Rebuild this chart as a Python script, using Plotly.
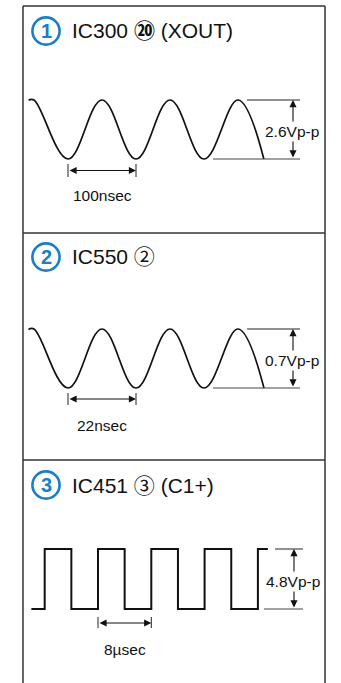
import plotly.graph_objects as go

# ---------------- data ----------------
# Panel 1: IC300 pin 20 (XOUT) – time in nsec, voltage in V
t1 = [-58, -50, 0, 50, 100, 150, 200, 250, 288]
v1 = [1.29, 1.3, -1.3, 1.3, -1.3, 1.3, -1.3, 1.3, -1.3]
# Panel 2: IC550 pin 2 – time in nsec, voltage in V
t2 = [-12.8, -11, 0, 11, 22, 33, 44, 55, 63.4]
v2 = [0.345, 0.35, -0.35, 0.35, -0.35, 0.35, -0.35, 0.35, -0.35]
# Panel 3: IC451 pin 3 (C1+) – time in usec, voltage in V
t3 = [-10, -8, -4, 0, 4, 8, 12, 16, 20, 24, 25.5]
v3 = [0, 4.8, 0, 4.8, 0, 4.8, 0, 4.8, 0, 4.8, 4.8]

titles = ["IC300 <b>⑳</b> (XOUT)", "IC550 ②", "IC451 ③ (C1+)"]
badges = ["1", "2", "3"]
periods = [100, 22, 8]
period_units = ["nsec", "nsec", "µsec"]
vpp = [2.6, 0.7, 4.8]

# ---------------- layout constants (pixels) ----------------
W, H = 341, 683
BLUE = "#1b7fc6"
INK = "#222222"
FONT = "Liberation Sans, Arial, Noto Sans CJK JP, sans-serif"

panels = [
    dict(t=t1, v=v1, shape="spline", band=(6, 233), x0px=68, pxper=68, phi=100, plo=159,
         title_y=31, top_ext=(247, 300), bot_ext=(213, 300), arrow_x=293, label_x=292,
         tick=(164, 177), dim_y=170.5, tlabel_y=195),
    dict(t=t2, v=v2, shape="spline", band=(233, 460), x0px=68, pxper=68, phi=329, plo=388,
         title_y=257, top_ext=(247, 300), bot_ext=(213, 300), arrow_x=293, label_x=292,
         tick=(393, 405), dim_y=399, tlabel_y=425),
    dict(t=t3, v=v3, shape="hv", band=(460, H), x0px=98, pxper=53.3, phi=549, plo=609,
         title_y=485, top_ext=(275, 303), bot_ext=(264, 303), arrow_x=294, label_x=293,
         tick=(617, 628), dim_y=623, tlabel_y=649),
]


def px(p):
    return p / W


def py(p):
    return 1 - p / H


fig = go.Figure()
shapes = []
annotations = []
layout_axes = {}

for i, P in enumerate(panels):
    n = "" if i == 0 else str(i + 1)
    xa, ya = "x" + n, "y" + n
    vhi, vlo = max(P["v"]), min(P["v"])
    top, bottom = P["band"]
    k = periods[i] / P["pxper"]
    s = (vhi - vlo) / (P["plo"] - P["phi"])
    layout_axes["xaxis" + n] = dict(domain=[0, 1], range=[-P["x0px"] * k, (W - P["x0px"]) * k],
                                    visible=False, anchor=ya, fixedrange=True)
    layout_axes["yaxis" + n] = dict(domain=[1 - bottom / H, 1 - top / H],
                                    range=[vlo - (bottom - P["plo"]) * s, vhi + (P["phi"] - top) * s],
                                    visible=False, anchor=xa, fixedrange=True)

    line = dict(color="#111111", width=1.7 if P["shape"] == "spline" else 2.0, shape=P["shape"])
    if P["shape"] == "spline":
        line["smoothing"] = 1.1
    fig.add_trace(go.Scatter(x=P["t"], y=P["v"], mode="lines", line=line, xaxis=xa, yaxis=ya,
                             hoverinfo="skip", showlegend=False))

    # extension lines for the amplitude dimension
    shapes.append(dict(type="line", xref="paper", yref=ya, x0=px(P["top_ext"][0]), x1=px(P["top_ext"][1]),
                       y0=vhi, y1=vhi, line=dict(color=INK, width=1)))
    shapes.append(dict(type="line", xref="paper", yref=ya, x0=px(P["bot_ext"][0]), x1=px(P["bot_ext"][1]),
                       y0=vlo, y1=vlo, line=dict(color="#444444", width=1)))
    # vertical double arrow
    annotations.append(dict(xref="paper", yref=ya, x=px(P["arrow_x"]), y=vhi, axref="pixel", ax=0,
                            ayref=ya, ay=vlo, text="", showarrow=True, arrowhead=2, startarrowhead=2,
                            arrowside="end+start", arrowsize=1.3, startarrowsize=1.3, arrowwidth=1.1,
                            arrowcolor="#111111", standoff=0, startstandoff=0))
    annotations.append(dict(xref="paper", yref=ya, x=px(P["label_x"]), y=(vhi + vlo) / 2, yshift=-2,
                            text=f"{vpp[i]}Vp-p", showarrow=False, bgcolor="white", borderpad=1,
                            font=dict(family=FONT, size=15.5, color="#111111"),
                            xanchor="center", yanchor="middle"))
    # period dimension
    for tt in (0, periods[i]):
        shapes.append(dict(type="line", xref=xa, yref="paper", x0=tt, x1=tt,
                           y0=py(P["tick"][0]), y1=py(P["tick"][1]), line=dict(color=INK, width=1)))
    annotations.append(dict(xref=xa, yref="paper", x=periods[i], y=py(P["dim_y"]), axref=xa, ax=0,
                            ayref="pixel", ay=0, text="", showarrow=True, arrowhead=2, startarrowhead=2,
                            arrowside="end+start", arrowsize=1.3, startarrowsize=1.3, arrowwidth=1.1,
                            arrowcolor="#111111", standoff=0, startstandoff=0))
    annotations.append(dict(xref=xa, yref="paper", x=periods[i] / 2, y=py(P["tlabel_y"]),
                            text=f"{periods[i]}{period_units[i]}", showarrow=False,
                            font=dict(family=FONT, size=15.5, color="#111111"),
                            xanchor="center", yanchor="middle"))
    # title with blue badge
    cy = P["title_y"]
    r = 13.6
    shapes.append(dict(type="circle", xref="paper", yref="paper", x0=px(46 - r), x1=px(46 + r),
                       y0=py(cy + r), y1=py(cy - r), line=dict(color=BLUE, width=2.6)))
    annotations.append(dict(xref="paper", yref="paper", x=px(46), y=py(cy), text=f"<b>{badges[i]}</b>",
                            showarrow=False, font=dict(family=FONT, size=20, color=BLUE),
                            xanchor="center", yanchor="middle"))
    annotations.append(dict(xref="paper", yref="paper", x=px(70), y=py(cy), text=titles[i],
                            showarrow=False, font=dict(family=FONT, size=21, color="#111111"),
                            xanchor="left", yanchor="middle"))

# frame: outer box (open at bottom) and dividers
frame_color = "#333333"
shapes.append(dict(type="line", xref="paper", yref="paper", x0=px(23), x1=px(23), y0=py(6), y1=py(H + 2),
                   line=dict(color=frame_color, width=1.5)))
shapes.append(dict(type="line", xref="paper", yref="paper", x0=px(325), x1=px(325), y0=py(6), y1=py(H + 2),
                   line=dict(color=frame_color, width=1.5)))
for yy in (6, 233, 460):
    shapes.append(dict(type="line", xref="paper", yref="paper", x0=px(23), x1=px(325), y0=py(yy), y1=py(yy),
                       line=dict(color=frame_color, width=1.5)))

fig.update_layout(width=W, height=H, margin=dict(l=0, r=0, t=0, b=0), autosize=False,
                  paper_bgcolor="white", plot_bgcolor="rgba(0,0,0,0)", showlegend=False,
                  shapes=shapes, annotations=annotations, **layout_axes)

fig.write_html("out.html", config={"displayModeBar": False, "staticPlot": True},
               post_script="document.body.style.margin='0';document.body.style.overflow='hidden';")
